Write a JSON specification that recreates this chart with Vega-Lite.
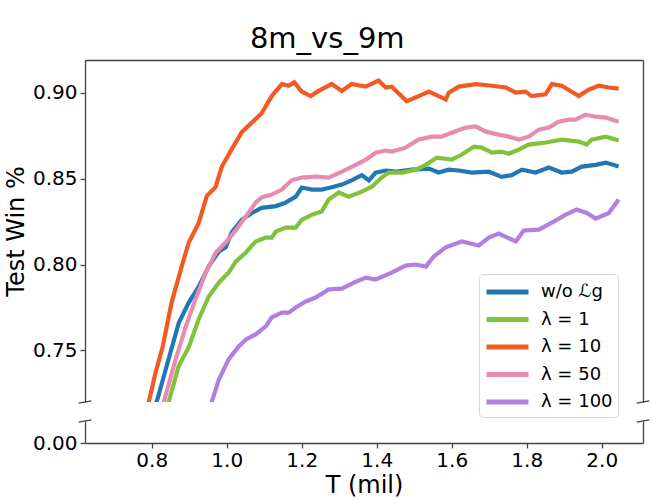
{
  "$schema": "https://vega.github.io/schema/vega-lite/v6.json",
  "description": "Broken-axis line chart, test win rate on 8m_vs_9m",
  "background": "white",
  "padding": {"left": 4, "top": 25, "right": 18, "bottom": 4},
  "title": {
    "text": "8m_vs_9m",
    "font": "DejaVu Sans",
    "fontSize": 29,
    "fontWeight": "normal",
    "color": "black",
    "anchor": "middle",
    "offset": 6
  },
  "datasets": {
    "runs": [
      {"series": "λ = 10", "T": 0.78, "win": 0.712},
      {"series": "λ = 10", "T": 0.792, "win": 0.72},
      {"series": "λ = 10", "T": 0.81, "win": 0.737},
      {"series": "λ = 10", "T": 0.829, "win": 0.752},
      {"series": "λ = 10", "T": 0.853, "win": 0.778},
      {"series": "λ = 10", "T": 0.88, "win": 0.799},
      {"series": "λ = 10", "T": 0.899, "win": 0.813},
      {"series": "λ = 10", "T": 0.925, "win": 0.824},
      {"series": "λ = 10", "T": 0.947, "win": 0.84},
      {"series": "λ = 10", "T": 0.97, "win": 0.845},
      {"series": "λ = 10", "T": 0.987, "win": 0.857},
      {"series": "λ = 10", "T": 1.013, "win": 0.867},
      {"series": "λ = 10", "T": 1.04, "win": 0.877},
      {"series": "λ = 10", "T": 1.067, "win": 0.8826},
      {"series": "λ = 10", "T": 1.093, "win": 0.888},
      {"series": "λ = 10", "T": 1.12, "win": 0.898},
      {"series": "λ = 10", "T": 1.147, "win": 0.905},
      {"series": "λ = 10", "T": 1.165, "win": 0.904},
      {"series": "λ = 10", "T": 1.18, "win": 0.906},
      {"series": "λ = 10", "T": 1.2, "win": 0.9006},
      {"series": "λ = 10", "T": 1.224, "win": 0.898},
      {"series": "λ = 10", "T": 1.245, "win": 0.901},
      {"series": "λ = 10", "T": 1.28, "win": 0.905},
      {"series": "λ = 10", "T": 1.307, "win": 0.901},
      {"series": "λ = 10", "T": 1.333, "win": 0.905},
      {"series": "λ = 10", "T": 1.37, "win": 0.9035},
      {"series": "λ = 10", "T": 1.405, "win": 0.907},
      {"series": "λ = 10", "T": 1.424, "win": 0.903},
      {"series": "λ = 10", "T": 1.44, "win": 0.9035},
      {"series": "λ = 10", "T": 1.48, "win": 0.895},
      {"series": "λ = 10", "T": 1.512, "win": 0.898},
      {"series": "λ = 10", "T": 1.539, "win": 0.9006},
      {"series": "λ = 10", "T": 1.565, "win": 0.898},
      {"series": "λ = 10", "T": 1.584, "win": 0.896},
      {"series": "λ = 10", "T": 1.592, "win": 0.9},
      {"series": "λ = 10", "T": 1.619, "win": 0.9035},
      {"series": "λ = 10", "T": 1.664, "win": 0.905},
      {"series": "λ = 10", "T": 1.707, "win": 0.904},
      {"series": "λ = 10", "T": 1.744, "win": 0.903},
      {"series": "λ = 10", "T": 1.771, "win": 0.9},
      {"series": "λ = 10", "T": 1.797, "win": 0.9006},
      {"series": "λ = 10", "T": 1.813, "win": 0.898},
      {"series": "λ = 10", "T": 1.85, "win": 0.899},
      {"series": "λ = 10", "T": 1.867, "win": 0.905},
      {"series": "λ = 10", "T": 1.893, "win": 0.904},
      {"series": "λ = 10", "T": 1.939, "win": 0.898},
      {"series": "λ = 10", "T": 1.965, "win": 0.9017},
      {"series": "λ = 10", "T": 1.992, "win": 0.904},
      {"series": "λ = 10", "T": 2.019, "win": 0.903},
      {"series": "λ = 10", "T": 2.045, "win": 0.9023},

      {"series": "w/o ℒg", "T": 0.8, "win": 0.712},
      {"series": "w/o ℒg", "T": 0.813, "win": 0.72},
      {"series": "w/o ℒg", "T": 0.845, "win": 0.745},
      {"series": "w/o ℒg", "T": 0.872, "win": 0.766},
      {"series": "w/o ℒg", "T": 0.899, "win": 0.778},
      {"series": "w/o ℒg", "T": 0.925, "win": 0.787},
      {"series": "w/o ℒg", "T": 0.952, "win": 0.799},
      {"series": "w/o ℒg", "T": 0.979, "win": 0.8076},
      {"series": "w/o ℒg", "T": 0.997, "win": 0.81},
      {"series": "w/o ℒg", "T": 1.013, "win": 0.8186},
      {"series": "w/o ℒg", "T": 1.04, "win": 0.826},
      {"series": "w/o ℒg", "T": 1.067, "win": 0.83},
      {"series": "w/o ℒg", "T": 1.093, "win": 0.833},
      {"series": "w/o ℒg", "T": 1.131, "win": 0.834},
      {"series": "w/o ℒg", "T": 1.157, "win": 0.836},
      {"series": "w/o ℒg", "T": 1.184, "win": 0.8395},
      {"series": "w/o ℒg", "T": 1.2, "win": 0.8448},
      {"series": "w/o ℒg", "T": 1.227, "win": 0.8436},
      {"series": "w/o ℒg", "T": 1.253, "win": 0.8436},
      {"series": "w/o ℒg", "T": 1.28, "win": 0.845},
      {"series": "w/o ℒg", "T": 1.307, "win": 0.8465},
      {"series": "w/o ℒg", "T": 1.333, "win": 0.849},
      {"series": "w/o ℒg", "T": 1.36, "win": 0.852},
      {"series": "w/o ℒg", "T": 1.379, "win": 0.849},
      {"series": "w/o ℒg", "T": 1.397, "win": 0.8535},
      {"series": "w/o ℒg", "T": 1.424, "win": 0.8547},
      {"series": "w/o ℒg", "T": 1.45, "win": 0.854},
      {"series": "w/o ℒg", "T": 1.493, "win": 0.8552},
      {"series": "w/o ℒg", "T": 1.539, "win": 0.8558},
      {"series": "w/o ℒg", "T": 1.565, "win": 0.8535},
      {"series": "w/o ℒg", "T": 1.592, "win": 0.8552},
      {"series": "w/o ℒg", "T": 1.619, "win": 0.8547},
      {"series": "w/o ℒg", "T": 1.653, "win": 0.8535},
      {"series": "w/o ℒg", "T": 1.699, "win": 0.854},
      {"series": "w/o ℒg", "T": 1.733, "win": 0.851},
      {"series": "w/o ℒg", "T": 1.76, "win": 0.852},
      {"series": "w/o ℒg", "T": 1.787, "win": 0.8552},
      {"series": "w/o ℒg", "T": 1.824, "win": 0.8535},
      {"series": "w/o ℒg", "T": 1.859, "win": 0.8564},
      {"series": "w/o ℒg", "T": 1.893, "win": 0.8535},
      {"series": "w/o ℒg", "T": 1.92, "win": 0.854},
      {"series": "w/o ℒg", "T": 1.947, "win": 0.857},
      {"series": "w/o ℒg", "T": 1.984, "win": 0.858},
      {"series": "w/o ℒg", "T": 2.011, "win": 0.8593},
      {"series": "w/o ℒg", "T": 2.045, "win": 0.857},

      {"series": "λ = 50", "T": 0.82, "win": 0.712},
      {"series": "λ = 50", "T": 0.832, "win": 0.72},
      {"series": "λ = 50", "T": 0.864, "win": 0.745},
      {"series": "λ = 50", "T": 0.891, "win": 0.764},
      {"series": "λ = 50", "T": 0.917, "win": 0.78},
      {"series": "λ = 50", "T": 0.944, "win": 0.7953},
      {"series": "λ = 50", "T": 0.971, "win": 0.807},
      {"series": "λ = 50", "T": 0.997, "win": 0.8128},
      {"series": "λ = 50", "T": 1.024, "win": 0.82},
      {"series": "λ = 50", "T": 1.051, "win": 0.828},
      {"series": "λ = 50", "T": 1.077, "win": 0.836},
      {"series": "λ = 50", "T": 1.093, "win": 0.839},
      {"series": "λ = 50", "T": 1.12, "win": 0.8407},
      {"series": "λ = 50", "T": 1.147, "win": 0.8436},
      {"series": "λ = 50", "T": 1.173, "win": 0.849},
      {"series": "λ = 50", "T": 1.2, "win": 0.8506},
      {"series": "λ = 50", "T": 1.237, "win": 0.8512},
      {"series": "λ = 50", "T": 1.272, "win": 0.8506},
      {"series": "λ = 50", "T": 1.307, "win": 0.854},
      {"series": "λ = 50", "T": 1.344, "win": 0.858},
      {"series": "λ = 50", "T": 1.371, "win": 0.861},
      {"series": "λ = 50", "T": 1.397, "win": 0.865},
      {"series": "λ = 50", "T": 1.424, "win": 0.8663},
      {"series": "λ = 50", "T": 1.44, "win": 0.8657},
      {"series": "λ = 50", "T": 1.477, "win": 0.868},
      {"series": "λ = 50", "T": 1.512, "win": 0.8727},
      {"series": "λ = 50", "T": 1.547, "win": 0.8744},
      {"series": "λ = 50", "T": 1.573, "win": 0.8744},
      {"series": "λ = 50", "T": 1.6, "win": 0.8767},
      {"series": "λ = 50", "T": 1.637, "win": 0.8797},
      {"series": "λ = 50", "T": 1.664, "win": 0.8803},
      {"series": "λ = 50", "T": 1.691, "win": 0.8773},
      {"series": "λ = 50", "T": 1.725, "win": 0.8756},
      {"series": "λ = 50", "T": 1.752, "win": 0.8744},
      {"series": "λ = 50", "T": 1.779, "win": 0.8727},
      {"series": "λ = 50", "T": 1.805, "win": 0.8744},
      {"series": "λ = 50", "T": 1.832, "win": 0.8785},
      {"series": "λ = 50", "T": 1.859, "win": 0.8797},
      {"series": "λ = 50", "T": 1.885, "win": 0.8831},
      {"series": "λ = 50", "T": 1.912, "win": 0.8843},
      {"series": "λ = 50", "T": 1.93, "win": 0.8843},
      {"series": "λ = 50", "T": 1.957, "win": 0.8872},
      {"series": "λ = 50", "T": 1.984, "win": 0.886},
      {"series": "λ = 50", "T": 2.011, "win": 0.8855},
      {"series": "λ = 50", "T": 2.045, "win": 0.8831},

      {"series": "λ = 1", "T": 0.835, "win": 0.712},
      {"series": "λ = 1", "T": 0.845, "win": 0.72},
      {"series": "λ = 1", "T": 0.872, "win": 0.741},
      {"series": "λ = 1", "T": 0.899, "win": 0.752},
      {"series": "λ = 1", "T": 0.925, "win": 0.768},
      {"series": "λ = 1", "T": 0.952, "win": 0.7814},
      {"series": "λ = 1", "T": 0.979, "win": 0.7895},
      {"series": "λ = 1", "T": 1.005, "win": 0.7953},
      {"series": "λ = 1", "T": 1.024, "win": 0.8017},
      {"series": "λ = 1", "T": 1.051, "win": 0.807},
      {"series": "λ = 1", "T": 1.077, "win": 0.8134},
      {"series": "λ = 1", "T": 1.104, "win": 0.8157},
      {"series": "λ = 1", "T": 1.12, "win": 0.8157},
      {"series": "λ = 1", "T": 1.131, "win": 0.8192},
      {"series": "λ = 1", "T": 1.157, "win": 0.8215},
      {"series": "λ = 1", "T": 1.184, "win": 0.8215},
      {"series": "λ = 1", "T": 1.2, "win": 0.826},
      {"series": "λ = 1", "T": 1.227, "win": 0.829},
      {"series": "λ = 1", "T": 1.253, "win": 0.8308},
      {"series": "λ = 1", "T": 1.272, "win": 0.8378},
      {"series": "λ = 1", "T": 1.299, "win": 0.8419},
      {"series": "λ = 1", "T": 1.325, "win": 0.8395},
      {"series": "λ = 1", "T": 1.36, "win": 0.8424},
      {"series": "λ = 1", "T": 1.387, "win": 0.8453},
      {"series": "λ = 1", "T": 1.413, "win": 0.8506},
      {"series": "λ = 1", "T": 1.432, "win": 0.8535},
      {"series": "λ = 1", "T": 1.467, "win": 0.8535},
      {"series": "λ = 1", "T": 1.504, "win": 0.8552},
      {"series": "λ = 1", "T": 1.531, "win": 0.858},
      {"series": "λ = 1", "T": 1.56, "win": 0.8622},
      {"series": "λ = 1", "T": 1.6, "win": 0.861},
      {"series": "λ = 1", "T": 1.627, "win": 0.864},
      {"series": "λ = 1", "T": 1.659, "win": 0.8686},
      {"series": "λ = 1", "T": 1.68, "win": 0.868},
      {"series": "λ = 1", "T": 1.707, "win": 0.8651},
      {"series": "λ = 1", "T": 1.733, "win": 0.8657},
      {"series": "λ = 1", "T": 1.752, "win": 0.8645},
      {"series": "λ = 1", "T": 1.779, "win": 0.8669},
      {"series": "λ = 1", "T": 1.805, "win": 0.8698},
      {"series": "λ = 1", "T": 1.851, "win": 0.871},
      {"series": "λ = 1", "T": 1.893, "win": 0.8727},
      {"series": "λ = 1", "T": 1.939, "win": 0.8715},
      {"series": "λ = 1", "T": 1.96, "win": 0.8698},
      {"series": "λ = 1", "T": 1.973, "win": 0.8727},
      {"series": "λ = 1", "T": 2.011, "win": 0.8744},
      {"series": "λ = 1", "T": 2.045, "win": 0.8721},

      {"series": "λ = 100", "T": 0.955, "win": 0.712},
      {"series": "λ = 100", "T": 0.96, "win": 0.72},
      {"series": "λ = 100", "T": 0.979, "win": 0.7331},
      {"series": "λ = 100", "T": 1.005, "win": 0.7448},
      {"series": "λ = 100", "T": 1.032, "win": 0.7523},
      {"series": "λ = 100", "T": 1.051, "win": 0.7564},
      {"series": "λ = 100", "T": 1.077, "win": 0.7593},
      {"series": "λ = 100", "T": 1.104, "win": 0.764},
      {"series": "λ = 100", "T": 1.12, "win": 0.7692},
      {"series": "λ = 100", "T": 1.147, "win": 0.772},
      {"series": "λ = 100", "T": 1.165, "win": 0.772},
      {"series": "λ = 100", "T": 1.184, "win": 0.775},
      {"series": "λ = 100", "T": 1.211, "win": 0.7785},
      {"series": "λ = 100", "T": 1.237, "win": 0.7808},
      {"series": "λ = 100", "T": 1.272, "win": 0.7855},
      {"series": "λ = 100", "T": 1.307, "win": 0.786},
      {"series": "λ = 100", "T": 1.344, "win": 0.79},
      {"series": "λ = 100", "T": 1.371, "win": 0.7924},
      {"series": "λ = 100", "T": 1.397, "win": 0.7913},
      {"series": "λ = 100", "T": 1.44, "win": 0.7953},
      {"series": "λ = 100", "T": 1.477, "win": 0.7994},
      {"series": "λ = 100", "T": 1.504, "win": 0.8},
      {"series": "λ = 100", "T": 1.531, "win": 0.7988},
      {"series": "λ = 100", "T": 1.552, "win": 0.8047},
      {"series": "λ = 100", "T": 1.584, "win": 0.81},
      {"series": "λ = 100", "T": 1.627, "win": 0.8134},
      {"series": "λ = 100", "T": 1.672, "win": 0.8111},
      {"series": "λ = 100", "T": 1.699, "win": 0.8157},
      {"series": "λ = 100", "T": 1.725, "win": 0.818},
      {"series": "λ = 100", "T": 1.771, "win": 0.8134},
      {"series": "λ = 100", "T": 1.792, "win": 0.8198},
      {"series": "λ = 100", "T": 1.832, "win": 0.8203},
      {"series": "λ = 100", "T": 1.867, "win": 0.8244},
      {"series": "λ = 100", "T": 1.904, "win": 0.829},
      {"series": "λ = 100", "T": 1.933, "win": 0.832},
      {"series": "λ = 100", "T": 1.96, "win": 0.83},
      {"series": "λ = 100", "T": 1.984, "win": 0.8267},
      {"series": "λ = 100", "T": 2.019, "win": 0.83},
      {"series": "λ = 100", "T": 2.045, "win": 0.8378}
    ],
    "topBreaks": [
      {"x": 0.605, "x2": 0.639, "y": 0.7194, "y2": 0.7206},
      {"x": 2.093, "x2": 2.127, "y": 0.7194, "y2": 0.7206}
    ],
    "bottomBreaksLeft": [
      {"x": 0.605, "x2": 0.639, "y": 0.0095, "y2": 0.0105}
    ],
    "bottomBreaksRight": [
      {"x": 2.093, "x2": 2.127, "y": 0.0095, "y2": 0.0105}
    ]
  },
  "bounds": "flush",
  "spacing": 19,
  "vconcat": [
    {
      "width": 558,
      "height": 342,
      "layer": [
        {
          "data": {"name": "runs"},
          "mark": {"type": "line", "strokeWidth": 4.2, "clip": true},
          "encoding": {
            "x": {
              "field": "T",
              "type": "quantitative",
              "scale": {"domain": [0.622, 2.11], "nice": false, "zero": false},
              "axis": null
            },
            "y": {
              "field": "win",
              "type": "quantitative",
              "scale": {"domain": [0.72, 0.919], "nice": false, "zero": false},
              "axis": {
                "values": [0.75, 0.8, 0.85, 0.9],
                "format": ".2f",
                "title": "Test Win %",
                "titlePadding": 4
              }
            },
            "color": {
              "field": "series",
              "type": "nominal",
              "scale": {
                "domain": ["w/o ℒg", "λ = 1", "λ = 10", "λ = 50", "λ = 100"],
                "range": ["#1f77b4", "#80c23c", "#f15a24", "#e88bb0", "#b07fe0"]
              },
              "legend": {
                "orient": "none",
                "legendX": 394,
                "legendY": 214,
                "title": null,
                "symbolType": "M-1,0H3",
                "symbolSize": 441,
                "symbolStrokeWidth": 5,
                "labelOffset": 31,
                "labelFontSize": 18,
                "labelColor": "black",
                "rowPadding": 4.5,
                "padding": 5,
                "strokeColor": "#d6d6d6",
                "fillColor": "white",
                "cornerRadius": 4
              }
            }
          }
        },
        {
          "data": {"name": "topBreaks"},
          "mark": {"type": "rule", "strokeWidth": 1.3, "color": "#444"},
          "encoding": {
            "x": {
              "field": "x",
              "type": "quantitative",
              "axis": {"orient": "top", "labels": false, "ticks": false, "title": null}
            },
            "x2": {"field": "x2"},
            "y": {
              "field": "y",
              "type": "quantitative",
              "axis": {"orient": "right", "labels": false, "ticks": false, "title": null}
            },
            "y2": {"field": "y2"}
          }
        }
      ],
      "resolve": {"axis": {"x": "independent", "y": "independent"}}
    },
    {
      "width": 558,
      "height": 22,
      "layer": [
        {
          "data": {"name": "bottomBreaksLeft"},
          "mark": {"type": "rule", "strokeWidth": 1.3, "color": "#444"},
          "encoding": {
            "x": {
              "field": "x",
              "type": "quantitative",
              "scale": {"domain": [0.622, 2.11], "nice": false, "zero": false},
              "axis": {
                "values": [0.8, 1.0, 1.2, 1.4, 1.6, 1.8, 2.0],
                "format": ".1f",
                "title": "T (mil)",
                "labelPadding": 2,
                "titlePadding": 3
              }
            },
            "x2": {"field": "x2"},
            "y": {
              "field": "y",
              "type": "quantitative",
              "scale": {"domain": [0, 0.01], "nice": false},
              "axis": {"values": [0], "format": ".2f", "title": null}
            },
            "y2": {"field": "y2"}
          }
        },
        {
          "data": {"name": "bottomBreaksRight"},
          "mark": {"type": "rule", "strokeWidth": 1.3, "color": "#444"},
          "encoding": {
            "x": {"field": "x", "type": "quantitative"},
            "x2": {"field": "x2"},
            "y": {
              "field": "y",
              "type": "quantitative",
              "axis": {"orient": "right", "labels": false, "ticks": false, "title": null}
            },
            "y2": {"field": "y2"}
          }
        }
      ],
      "resolve": {"axis": {"y": "independent"}}
    }
  ],
  "config": {
    "font": "DejaVu Sans",
    "view": {"stroke": null},
    "axis": {
      "grid": false,
      "labelFontSize": 20,
      "labelColor": "black",
      "titleFontSize": 24,
      "titleFontWeight": "normal",
      "titleColor": "black",
      "domainColor": "#444",
      "domainWidth": 1.3,
      "tickColor": "#444",
      "tickWidth": 1.3,
      "tickSize": 5,
      "labelPadding": 3
    },
    "legend": {"labelFont": "DejaVu Sans"}
  }
}
